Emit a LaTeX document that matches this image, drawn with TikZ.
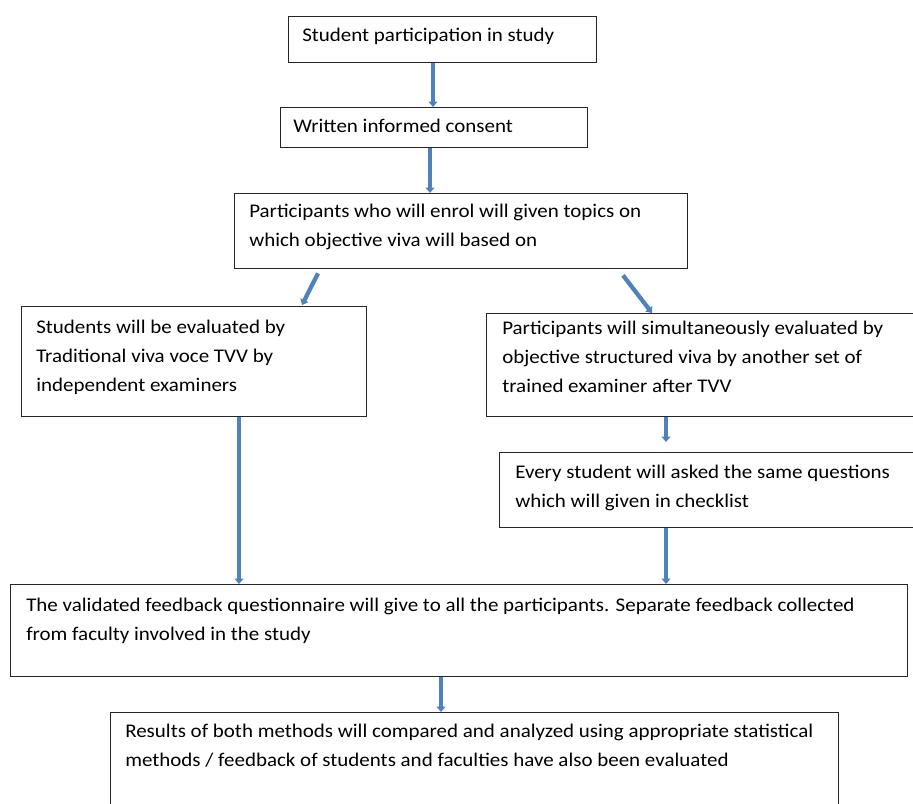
\documentclass[tikz,border=0pt]{standalone}
\usepackage{fontspec}
\setmainfont[FakeStretch=1.085]{Carlito}
\usetikzlibrary{arrows.meta}
\definecolor{arrowblue}{RGB}{79,129,189}
\begin{document}
\begin{tikzpicture}[x=0.75pt,y=-0.75pt,
  box/.style={draw=black!85,line width=1pt,inner sep=0pt,anchor=north west},
  txt/.style={anchor=north west,inner sep=0pt,align=left,font=\fontsize{14.5}{21.75}\selectfont},
  arr/.style={draw=arrowblue,line width=3.2pt,-{Triangle[width=6.5pt,length=4pt]}}]
\path[use as bounding box,clip] (0,0) rectangle (913,803);

\node[box,minimum width=231pt,minimum height=34.5pt] (b1) at (288,16) {};
\node[box,minimum width=230.25pt,minimum height=30pt] (b2) at (280,107) {};
\node[box,minimum width=339.75pt,minimum height=56.25pt] (b3) at (234,193) {};
\node[box,minimum width=258.75pt,minimum height=82.5pt] (b4) at (21,306) {};
\node[box,minimum width=325.5pt,minimum height=77.25pt] (b5) at (486,313) {};
\node[box,minimum width=315.75pt,minimum height=56.25pt] (b6) at (499,452) {};
\node[box,minimum width=672.75pt,minimum height=69pt] (b7) at (10,584) {};
\node[box,minimum width=546pt,minimum height=75pt] (b8) at (110,712) {};

\node[txt] (t1) at (302,28) {Student participation in study};
\node[txt] (t2) at (293,119) {Written informed consent};
\node[txt] (t3) at (249,204) {Participants who will enrol will given topics on\\which objective viva will based on};
\node[txt] (t4) at (36,320) {Students will be evaluated by\\Traditional viva voce TVV by\\independent examiners};
\node[txt] (t5) at (502,321) {Participants will simultaneously evaluated by\\objective structured viva by another set of\\trained examiner after TVV};
\node[txt] (t6) at (515,465) {Every student will asked the same questions\\which will given in checklist};
\node[txt] (t7) at (26,598) {The validated feedback questionnaire will give to all the participants. Separate feedback collected\\from faculty involved in the study};
\node[txt] (t8) at (125,724) {Results of both methods will compared and analyzed using appropriate statistical\\methods / feedback of students and faculties have also been evaluated};

\draw[arr] ([shift={(145,0)}]b1.south west) -- ([shift={(153,0)}]b2.north west);
\draw[arr] ([shift={(150,0)}]b2.south west) -- ([shift={(196,0)}]b3.north west);
\draw[arr] ([shift={(84,4)}]b3.south west) -- ([shift={(281,-1)}]b4.north west);
\draw[arr] ([shift={(389,6)}]b3.south west) -- ([shift={(166,0)}]b5.north west);
\draw[arr] ([shift={(218,0)}]b4.south west) -- ([shift={(229,0)}]b7.north west);
\draw[arr] ([shift={(180,0)}]b5.south west) -- ([shift={(167,-10)}]b6.north west);
\draw[arr] ([shift={(167,0)}]b6.south west) -- ([shift={(656,0)}]b7.north west);
\draw[arr] ([shift={(431,0)}]b7.south west) -- ([shift={(331,0)}]b8.north west);
\end{tikzpicture}
\end{document}
